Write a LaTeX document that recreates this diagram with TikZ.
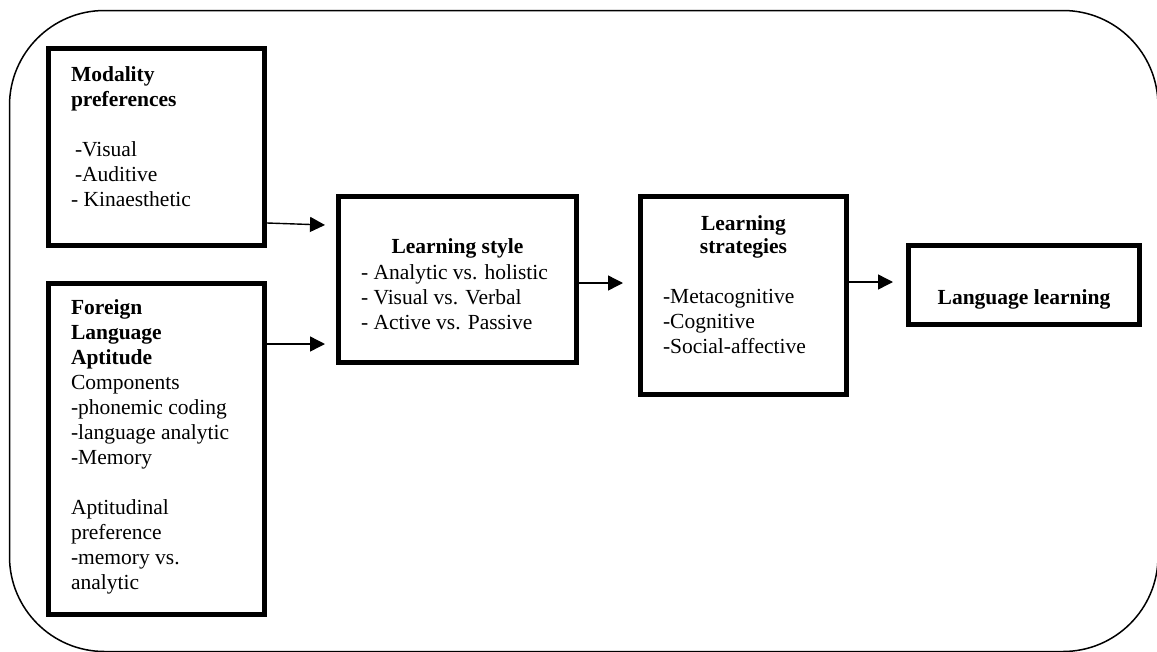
\documentclass[tikz,border=0pt]{standalone}
\usepackage{fontspec}
\setmainfont{Liberation Serif}
\usetikzlibrary{arrows.meta,calc}
\begin{document}
\begin{tikzpicture}[x=1pt,y=-1pt,
  box/.style={draw,line width=5pt,inner sep=0pt,outer sep=2.5pt},
  txt/.style={inner sep=0pt,outer sep=0pt,align=left,font=\fontsize{21.5}{25}\selectfont},
  arr/.style={line width=1.4pt,-{Triangle[length=15pt,width=15pt]}},
  frame/.style={line width=1.5pt,rounded corners=95pt}]
\useasboundingbox (0,0) rectangle (1157,651);
\draw[frame] (9.5,10.5) rectangle (1158,651.5);
% boxes
\node[box,minimum width=216pt,minimum height=197pt] (mod) at (156.5,147) {};
\node[box,minimum width=216pt,minimum height=331pt] (fla) at (156.5,449) {};
\node[box,minimum width=238pt,minimum height=166pt] (ls) at (457.5,279.5) {};
\node[box,minimum width=206pt,minimum height=198pt] (str) at (743.5,295.5) {};
\node[box,minimum width=231pt,minimum height=79pt] (lang) at (1024,285) {};
% texts
\node[txt,anchor=north west] (modt) at (71,63.5) {\strut\textbf{Modality}\\ \textbf{preferences}\\[25pt] \hspace{4pt}-Visual\\ \hspace{4pt}-Auditive\\ - Kinaesthetic};
\node[txt,anchor=north west] (flat) at (71,296.5) {\strut\textbf{Foreign}\\ \textbf{Language}\\ \textbf{Aptitude}\\ Components\\ -phonemic coding\\ -language analytic\\ -Memory\\[25pt] Aptitudinal\\ preference\\ -memory vs.\\ analytic};
\node[txt,anchor=north] (lst) at (457.5,235.5) {\strut\textbf{Learning style}};
\node[txt,anchor=north west] (lsl) at (361,261.5) {\strut- Analytic vs. holistic\\ - Visual vs. Verbal\\ - Active vs. Passive};
\node[txt,align=center,anchor=north] (strt) at (743.5,212.5) {\strut\textbf{Learning}\\[-2pt] \textbf{strategies}};
\node[txt,anchor=north west] (strl) at (663,285.5) {\strut-Metacognitive\\ -Cognitive\\ -Social-affective};
\node[txt,anchor=north] (langt) at (1024,286.5) {\strut\textbf{Language learning}};
% arrows
\draw[arr] ($(mod.south east)+(0,-25)$) -- ($(ls.west)+(-11,-54.5)$);
\draw[arr] ($(fla.north east)+(0,63)$) -- ($(ls.west)+(-11,64.5)$);
\draw[arr] ($(ls.east)+(0,3.5)$) -- ($(str.west)+(-15,-12.5)$);
\draw[arr] ($(str.east)+(0,-13.5)$) -- ($(lang.west)+(-13,-3)$);
\end{tikzpicture}
\end{document}
